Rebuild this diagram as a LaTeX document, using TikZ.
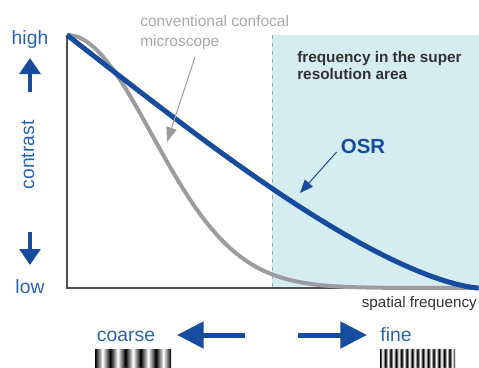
\documentclass[tikz,border=0pt]{standalone}
\usepackage{fontspec}
\setmainfont{Liberation Sans}
\usetikzlibrary{arrows.meta}

\definecolor{osrblue}{RGB}{22,76,158}
\definecolor{lblblue}{RGB}{40,100,180}
\definecolor{confgray}{RGB}{156,156,160}
\definecolor{notegray}{RGB}{168,168,170}
\definecolor{darktext}{RGB}{50,50,50}
\definecolor{axisgray}{RGB}{80,80,80}
\definecolor{superfill}{RGB}{213,236,240}

\begin{document}
\begin{tikzpicture}[x=0.75pt, y=-0.75pt,
	lbl/.style={text=lblblue, inner sep=0pt, font=\fontsize{14.5}{16}\selectfont},
	note/.style={inner sep=0pt, align=left},
	vertarrow/.style={osrblue, line width=3.4pt, -{Triangle[length=12pt, width=15.5pt]}},
	horarrow/.style={osrblue, line width=3.75pt, -{Triangle[length=20pt, width=19.5pt]}},
	pointer/.style={line width=0.75pt}]
	\useasboundingbox (0,0) rectangle (479,368);

	% super resolution area
	\fill[superfill] (272,35) rectangle (479,288);
	\draw[notegray, line width=0.75pt, dash pattern=on 3pt off 3pt] (272,35) -- (272,288);
	\node[note, anchor=north west, text=darktext, font=\bfseries\fontsize{11.5}{13}\selectfont] (area) at (297,51) {frequency in the super\\resolution area};

	% axes
	\draw[axisgray, line width=0.9pt] (67,35) -- (67,288) -- (479,288);
	\node[anchor=base east, inner sep=0pt, text=darktext, font=\fontsize{11.4}{13}\selectfont] (spatial) at (477,307) {spatial frequency};

	\node[lbl, anchor=base] (high) at (30,44) {high};
	\node[lbl, anchor=base] (low) at (30,293) {low};
	\node[lbl, rotate=90] (contrast) at (28,155) {contrast};
	\draw[vertarrow] (30,92) -- (30,58);
	\draw[vertarrow] (30,232) -- (30,265);

	% curves
	\draw[confgray, line width=3pt, line join=round] plot[domain=0:3.44, samples=120] ({67+120*\x}, {288-253*exp(-\x*\x)});
	\draw[osrblue, line width=3.75pt, line join=round] plot[domain=0:1, samples=120] ({67+412*\x}, {288-253*(2/pi)*(rad(acos(\x))-\x*sqrt(1-\x*\x))});

	% labels with pointers
	\node[note, anchor=north west, text=notegray, font=\fontsize{11.6}{15}\selectfont] (conf) at (140,15) {conventional confocal\\microscope};
	\coordinate (confstart) at (195,57);
	\coordinate (confend) at (167,142);
	\draw[pointer, confgray, -{Triangle[length=11pt, width=8pt]}] (confstart) -- (confend);

	\node[anchor=base, inner sep=0pt, text=osrblue, font=\bfseries\fontsize{15.3}{18}\selectfont] (osr) at (363,153) {OSR};
	\coordinate (osrend) at (300,193);
	\draw[pointer, osrblue, -{Triangle[length=10pt, width=8pt]}] ([shift={(-4,-1)}]osr.base west) -- (osrend);

	% coarse / fine
	\node[lbl, anchor=base] (coarse) at (126,341) {coarse};
	\node[lbl, anchor=base] (fine) at (396,341) {fine};
	\draw[horarrow] (245,335) -- (177,335);
	\draw[horarrow] (298,335) -- (367,335);

	\foreach \i in {0,...,4} {
		\shade[left color=black, right color=white] ({95+\i*15.2},349) rectangle ++(7.6,19);
		\shade[left color=white, right color=black] ({102.6+\i*15.2},349) rectangle ++(7.6,19);
	}
	\foreach \i in {0,...,13} {
		\shade[left color=black, right color=white] ({380+\i*5.36},349) rectangle ++(2.68,19);
		\shade[left color=white, right color=black] ({382.68+\i*5.36},349) rectangle ++(2.68,19);
	}
\end{tikzpicture}
\end{document}
